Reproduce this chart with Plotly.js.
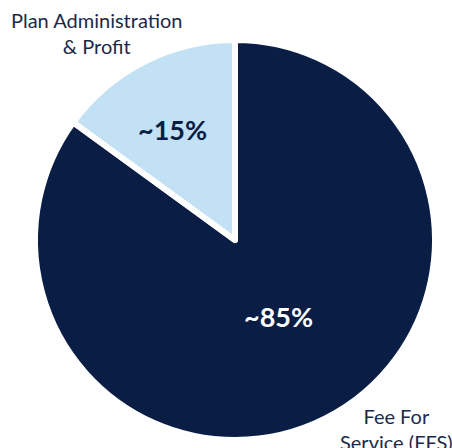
<!DOCTYPE html>
<html>
<head>
<meta charset="utf-8">
<script src="https://cdn.plot.ly/plotly-3.0.1.min.js"></script>
<style>html,body{margin:0;padding:0;background:#fff;}</style>
</head>
<body>
<div id="chart" style="width:452px;height:448px;"></div>
<script>
var categories = ["Fee For<br>Service (FFS)", "Plan Administration<br>& Profit"];
var values = [85, 15];
var colors = ["#0A1E45", "#C3E1F4"];
var pctTextColors = ["#FFFFFF", "#0A1E45"];

var W = 452, H = 448;
function px(x){ return x / W; }
function py(y){ return 1 - y / H; }

var trace = {
  type: "pie",
  labels: categories,
  values: values,
  sort: false,
  direction: "counterclockwise",
  rotation: 0,
  textinfo: "none",
  hoverinfo: "none",
  marker: { colors: colors, line: { color: "#FFFFFF", width: 6 } },
  domain: { x: [px(35), px(435)], y: [py(440), py(40)] },
  showlegend: false
};

var labelPos = [[396, 429], [97, 33]];
var pctPos = [[278, 316], [172, 129]];
var annotations = [];
for (var i = 0; i < categories.length; i++) {
  annotations.push({
    xref: "paper", yref: "paper",
    x: px(labelPos[i][0]), y: py(labelPos[i][1]),
    xanchor: "center", yanchor: "middle",
    text: categories[i], showarrow: false, align: "center",
    font: { family: "Lato, 'Open Sans', sans-serif", size: 20, color: "#1B2A4A" }
  });
  annotations.push({
    xref: "paper", yref: "paper",
    x: px(pctPos[i][0]), y: py(pctPos[i][1]),
    xanchor: "center", yanchor: "middle",
    text: "<b>~" + values[i] + "%</b>", showarrow: false,
    font: { family: "Lato, 'Open Sans', sans-serif", size: 27, color: pctTextColors[i] }
  });
}

var layout = {
  width: W, height: H,
  margin: { l: 0, r: 0, t: 0, b: 0 },
  paper_bgcolor: "#FFFFFF",
  plot_bgcolor: "#FFFFFF",
  annotations: annotations
};

Plotly.newPlot("chart", [trace], layout, { displayModeBar: false, staticPlot: true });
</script>
</body>
</html>
